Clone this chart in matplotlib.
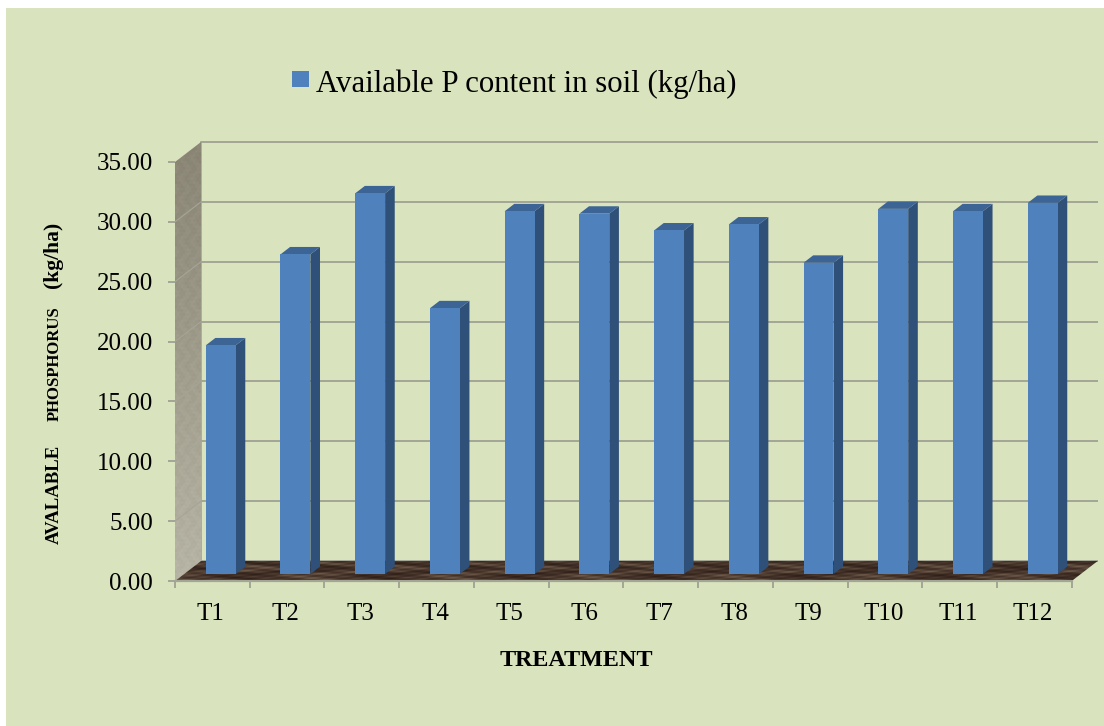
"""Available phosphorus per treatment, drawn as an office-style pseudo 3D bar chart."""
import numpy as np
import matplotlib
matplotlib.use("Agg")
import matplotlib.pyplot as plt
from matplotlib.colors import LinearSegmentedColormap
from matplotlib.patches import Polygon, Rectangle

treatments = ["T1", "T2", "T3", "T4", "T5", "T6", "T7", "T8", "T9", "T10", "T11", "T12"]
p_content = [19.1, 26.7, 31.8, 22.2, 30.3, 30.1, 28.7, 29.2, 26.0, 30.5, 30.3, 31.0]
y_ticks = [0, 5, 10, 15, 20, 25, 30, 35]

W, H = 1104, 726
BG = "#d9e3bd"
GRID = "#a3a595"
FRONT = "#4f81bd"
SIDE = "#2f5078"
TOP = "#3c6494"

plt.rcParams["font.family"] = ["Liberation Serif", "DejaVu Serif"]

fig = plt.figure(figsize=(W / 100, H / 100), dpi=100, facecolor="white")
fig.add_artist(Rectangle((6 / W, 0), 1098 / W, 718 / H, transform=fig.transFigure,
                         facecolor=BG, edgecolor="none", zorder=-5))

# front plane of the plot box, in pixels
left, right, top, bottom = 175, 1071.7, 162, 581
ax = fig.add_axes([left / W, 1 - bottom / H, (right - left) / W, (bottom - top) / H])
ax.patch.set_alpha(0)
ax.set_xlim(0, 12)
ax.set_ylim(0, 35)
ax.set_autoscale_on(False)
for s in ax.spines.values():
    s.set_visible(False)

# depth of the box expressed in data units
depth_x = 26 / ((right - left) / 12)
depth_y = 20 / ((bottom - top) / 35)


def project(x, v, d):
    return x + d * depth_x, v + d * depth_y


def face(points, **kw):
    patch = Polygon([project(*p) for p in points], closed=True, clip_on=False, **kw)
    ax.add_patch(patch)
    return patch


def ripple(nrows, ncols, fx, fy):
    # layered sines, gives a marbled look for the wall and floor fills
    yy, xx = np.mgrid[0:nrows, 0:ncols]
    z = (np.sin(xx * fx + 2.2 * np.sin(yy * fy * 0.7))
         + 0.7 * np.sin(xx * fx * 2.9 + yy * fy * 2.1)
         + 0.5 * np.sin(xx * fx * 6.1 - yy * fy * 3.3))
    return (z - z.min()) / (z.max() - z.min())


# back wall gridlines
for v in y_ticks:
    x0, y0 = project(0, v, 1)
    x1, _ = project(12, v, 1)
    ax.plot([x0, x1], [y0, y0], color=GRID, lw=1.4, clip_on=False, zorder=1, solid_capstyle="butt")
ax.plot([project(0, 0, 1)[0]] * 2, [project(0, 0, 1)[1], project(0, 35, 1)[1]], color=GRID, lw=1.2,
        clip_on=False, zorder=1)

# left wall, fading from pale at the floor to darker at the top
wall = face([(0, 0, 0), (0, 0, 1), (0, 35, 1), (0, 35, 0)], facecolor="none", edgecolor="none")
wall_fill = np.linspace(0, 1, 210).reshape(-1, 1) * 0.8 + ripple(210, 13, 1.1, 0.9) * 0.2
im = ax.imshow(wall_fill, extent=(0, depth_x, 0, 35 + depth_y), origin="lower", aspect="auto", zorder=2,
               cmap=LinearSegmentedColormap.from_list("wall", ["#bcbaab", "#85806f"]))
im.set_clip_box(fig.bbox)
im.set_clip_path(wall)
for v in y_ticks[1:-1]:
    ax.plot([0, depth_x], [v, v + depth_y], color="#a5a596", lw=0.8, clip_on=False, zorder=3)

# floor
floor = face([(0, 0, 0), (12, 0, 0), (12, 0, 1), (0, 0, 1)], facecolor="none", edgecolor="none")
im = ax.imshow(ripple(20, 460, 0.09, 0.55), extent=(0, 12 + depth_x, 0, depth_y), origin="lower",
               aspect="auto", zorder=3,
               cmap=LinearSegmentedColormap.from_list("floor", ["#2e1f17", "#46342a", "#6e5a4a"]))
im.set_clip_box(fig.bbox)
im.set_clip_path(floor)
ax.plot([0, 12], [0, 0], color=GRID, lw=1.6, clip_on=False, zorder=4)

# bars: a front face through bar(), side and top faces pushed back in depth
bar_w = 0.4
xs = np.arange(len(p_content)) + 0.49
d0, d1 = 0.35, 0.72
ax.bar(xs - bar_w / 2 + d0 * depth_x, p_content, width=bar_w, align="edge", bottom=d0 * depth_y,
       color=FRONT, zorder=6, clip_on=False)
for x, v in zip(xs, p_content):
    xl, xr = x - bar_w / 2, x + bar_w / 2
    face([(xr, 0, d0), (xr, 0, d1), (xr, v, d1), (xr, v, d0)], facecolor=SIDE, edgecolor="none", zorder=5)
    face([(xl, v, d0), (xr, v, d0), (xr, v, d1), (xl, v, d1)], facecolor=TOP, edgecolor="none", zorder=5)

# ticks and labels
ax.set_yticks(y_ticks)
ax.set_yticklabels([f"{v:.2f}" for v in y_ticks], fontsize=18)
ax.set_xticks(range(13))
ax.set_xticklabels([])
ax.set_xticks(xs - 0.01, minor=True)
ax.set_xticklabels(treatments, minor=True, fontsize=18)
ax.tick_params(axis="y", length=5, width=1.4, color=GRID, pad=11)
ax.tick_params(axis="x", which="major", length=5, width=1.4, color=GRID)
ax.tick_params(axis="x", which="minor", length=0, pad=16)

fig.text(576 / W, 1 - 661 / H, "TREATMENT", fontsize=17.4, fontweight="bold", ha="center", va="center")
fig.text(54.5 / W, 1 - 544 / H, "AVALABLE", fontsize=13.5, fontweight="bold", rotation=90,
         ha="center", va="bottom")
fig.text(54.5 / W, 1 - 421 / H, "PHOSPHORUS", fontsize=12, fontweight="bold", rotation=90,
         ha="center", va="bottom")
fig.text(53 / W, 1 - 288 / H, "(kg/ha)", fontsize=15.5, fontweight="bold", rotation=90, ha="center", va="bottom")

# legend entry
fig.add_artist(Rectangle((292 / W, 1 - 87 / H), 17 / W, 16 / H, transform=fig.transFigure,
                         facecolor=FRONT, edgecolor="none"))
fig.text(316 / W, 1 - 84 / H, "Available P content in soil (kg/ha)", fontsize=22.2, ha="left", va="center")

fig.savefig("out.png", dpi=100)
